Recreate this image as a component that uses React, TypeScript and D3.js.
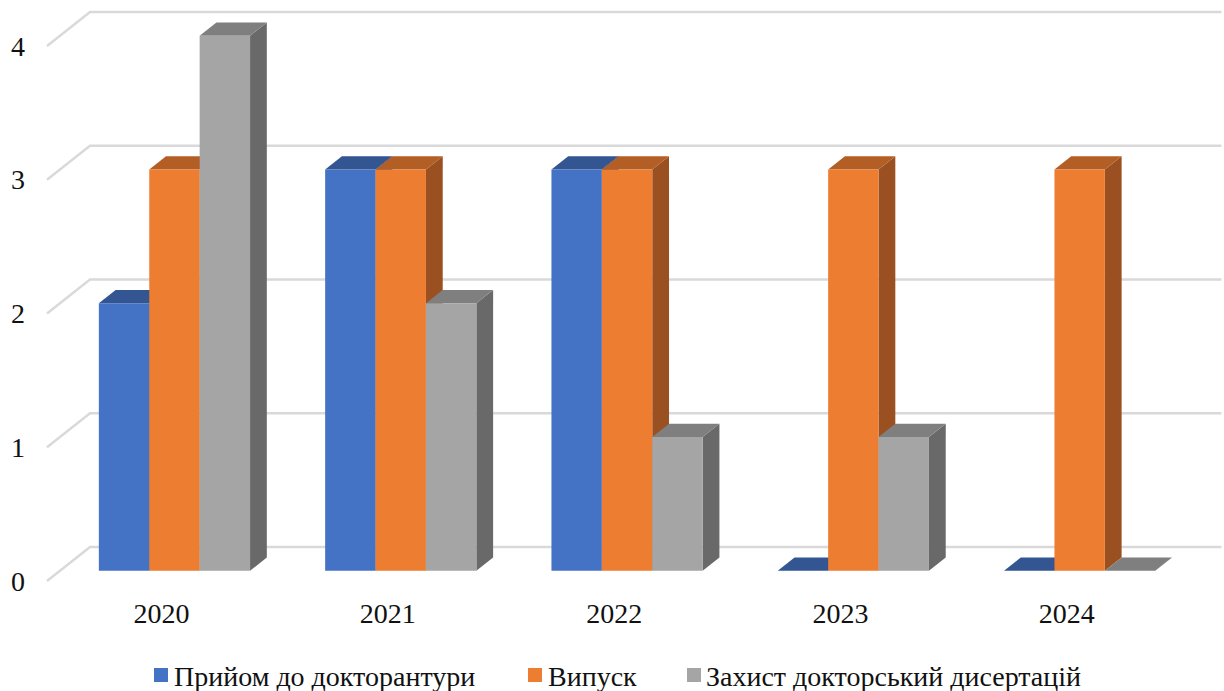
import React from 'react';
import * as d3 from 'd3';

const years = ['2020', '2021', '2022', '2023', '2024'];
const seriesNames = ['Прийом до докторантури', 'Випуск', 'Захист докторський дисертацій'];
const admission = [2, 3, 3, 0, 0];
const graduation = [3, 3, 3, 3, 3];
const defence = [4, 2, 1, 1, 0];
const yTicks = [0, 1, 2, 3, 4];

const seriesValues = [admission, graduation, defence];
const frontColors = ['#4472c4', '#ed7d31', '#a5a5a5'];
const topColors = ['#335693', '#b25e25', '#7f7f7f'];
const sideColors = ['#2f5087', '#9a5020', '#696969'];
const font = '"Liberation Serif", "Times New Roman", serif';

// oblique projection of the chart box: depth 0 = front of floor, 1 = back wall
const originX = 47;
const originY = 581;
const depthX = 43;
const depthY = -34;
const barFront = 0.3;
const barBack = 0.69;
const nudge = 1.4;

const x = d3.scaleBand<string>().domain(years).range([originX, originX + 1131.5]);
const xBar = d3.scaleBand<number>().domain([0, 1, 2]).range([0, 151.2]);
const y = d3.scaleLinear().domain([0, 4]).range([0, 535]);

const project = (px: number, value: number, depth: number): [number, number] => [
  px + depthX * depth,
  originY - y(value) + depthY * depth,
];
const path = d3.line();

const legendSwatchX = [154, 528, 687];
const legendTextX = [174, 548, 706];

const App = () => {
  const barOffset = (x.bandwidth() - xBar.range()[1]) / 2 + nudge;

  return (
    <svg
      width={1224}
      height={691}
      style={{ position: 'absolute', left: 0, top: 0, background: '#fff', fontFamily: font }}
    >
      {/* Gridlines */}
      {yTicks.map((t) => (
        <path
          key={t}
          d={path([project(originX, t, 0), project(originX, t, 1), project(originX + x.range()[1] - x.range()[0], t, 1)]) as string}
          fill="none"
          stroke="#d9d9d9"
          strokeWidth={2.4}
        />
      ))}

      {/* Y axis labels */}
      {yTicks.map((t) => (
        <text key={t} x={18} y={originY - y(t)} dy="0.34em" textAnchor="middle" fontSize={28} fill="#111">
          {t}
        </text>
      ))}

      {/* Bars */}
      {years.map((year, i) => (
        <g key={year}>
          {seriesValues.map((values, s) => {
            const left = (x(year) as number) + barOffset + (xBar(s) as number);
            const right = left + xBar.bandwidth();
            const v = values[i];
            const front = [project(left, v, barFront), project(right, v, barFront), project(right, 0, barFront), project(left, 0, barFront)];
            const top = [project(left, v, barFront), project(left, v, barBack), project(right, v, barBack), project(right, v, barFront)];
            const side = [project(right, v, barFront), project(right, v, barBack), project(right, 0, barBack), project(right, 0, barFront)];
            return (
              <g key={s}>
                <path d={`${path(side as [number, number][])}Z`} fill={sideColors[s]} />
                <path d={`${path(top as [number, number][])}Z`} fill={topColors[s]} />
                {v > 0 && <path d={`${path(front as [number, number][])}Z`} fill={frontColors[s]} />}
              </g>
            );
          })}
        </g>
      ))}

      {/* X axis labels */}
      {years.map((year) => (
        <text
          key={year}
          x={(x(year) as number) + x.bandwidth() / 2 + nudge}
          y={623}
          textAnchor="middle"
          fontSize={28}
          fill="#111"
        >
          {year}
        </text>
      ))}

      {/* Legend */}
      {seriesNames.map((name, s) => (
        <g key={name}>
          <rect x={legendSwatchX[s]} y={668} width={14} height={14} fill={frontColors[s]} />
          <text x={legendTextX[s]} y={686} fontSize={28} fill="#111">
            {name}
          </text>
        </g>
      ))}
    </svg>
  );
};

export default App;
